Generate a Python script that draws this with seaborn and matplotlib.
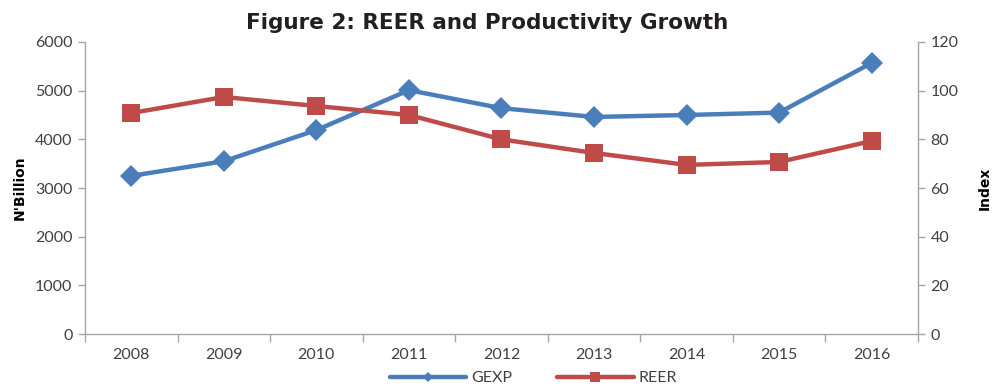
import matplotlib
matplotlib.use("Agg")
import matplotlib.pyplot as plt
import seaborn as sns
import numpy as np
import pandas as pd

years = ["2008", "2009", "2010", "2011", "2012", "2013", "2014", "2015", "2016"]
gexp = [3250, 3550, 4190, 5010, 4640, 4460, 4500, 4550, 5570]
reer = [90.8, 97.4, 93.7, 90.0, 80.0, 74.4, 69.5, 70.7, 79.3]

left_ticks = [0, 1000, 2000, 3000, 4000, 5000, 6000]
right_ticks = [0, 20, 40, 60, 80, 100, 120]

blue = "#4A7EBB"
red = "#BE4B48"
axis_grey = "#A6A6A6"
text_grey = "#404040"

sns.set_theme(style="white")
plt.rcParams["font.family"] = ["Lato", "DejaVu Sans"]

df = pd.DataFrame({"pos": np.arange(len(years)), "GEXP": gexp, "REER": reer})

fig = plt.figure(figsize=(9.95, 3.88), dpi=100)
ax = fig.add_axes([0.0854, 0.139, 0.8372, 0.7528])
ax2 = ax.twinx()

sns.lineplot(data=df, x="pos", y="GEXP", ax=ax, color=blue, lw=3.2,
             marker="D", markersize=11, markeredgewidth=0, label="GEXP",
             legend=False)
sns.lineplot(data=df, x="pos", y="REER", ax=ax2, color=red, lw=3.2,
             marker="s", markersize=13, markeredgewidth=0, label="REER",
             legend=False)

ax.set_xlim(-0.5, len(years) - 0.5)
ax.set_ylim(0, 6000)
ax2.set_ylim(0, 120)
ax.set_yticks(left_ticks)
ax2.set_yticks(right_ticks)

ax.set_xticks(np.arange(-0.5, len(years), 1.0))
ax.set_xticklabels([])
ax.set_xticks(np.arange(len(years)), minor=True)
ax.set_xticklabels(years, minor=True)
ax.tick_params(axis="x", which="major", length=6, width=1, color=axis_grey,
               direction="out", bottom=True)
ax.tick_params(axis="x", which="minor", length=0, pad=10, labelsize=11.5,
               labelcolor=text_grey)
ax.tick_params(axis="y", length=5, width=1, color=axis_grey, direction="out",
               left=True, labelsize=11.5, labelcolor=text_grey, pad=4)
ax2.tick_params(axis="y", length=5, width=1, color=axis_grey, direction="out",
                right=True, labelsize=11.5, labelcolor=text_grey, pad=4)

for a in (ax, ax2):
    a.grid(False)
    a.spines["top"].set_visible(False)
    for s in ("left", "right", "bottom"):
        a.spines[s].set_color(axis_grey)
        a.spines[s].set_linewidth(1)
ax.spines["right"].set_visible(False)
ax2.spines["left"].set_visible(False)
ax2.spines["bottom"].set_visible(False)

ax.set_xlabel("")
ax.set_ylabel("N'Billion", fontsize=10, fontweight="bold", color="black",
              labelpad=6, family=["DejaVu Sans"])
ax2.set_ylabel("Index", fontsize=10, fontweight="bold", color="black",
               labelpad=14, family=["DejaVu Sans"])

fig.text(0.49, 0.940, "Figure 2: REER and Productivity Growth",
         ha="center", va="center", fontsize=15.5, fontweight="bold",
         color="#231F20", family=["DejaVu Sans"])

h1, l1 = ax.get_legend_handles_labels()
h2, l2 = ax2.get_legend_handles_labels()
leg = fig.legend(h1 + h2, l1 + l2, loc="center", bbox_to_anchor=(0.536, 0.025),
                 ncol=2, frameon=False, fontsize=11.5, handlelength=4.8,
                 columnspacing=2.8, handletextpad=0.3, markerscale=0.5)
for t in leg.get_texts():
    t.set_color(text_grey)

fig.savefig("out.png", dpi=100)
